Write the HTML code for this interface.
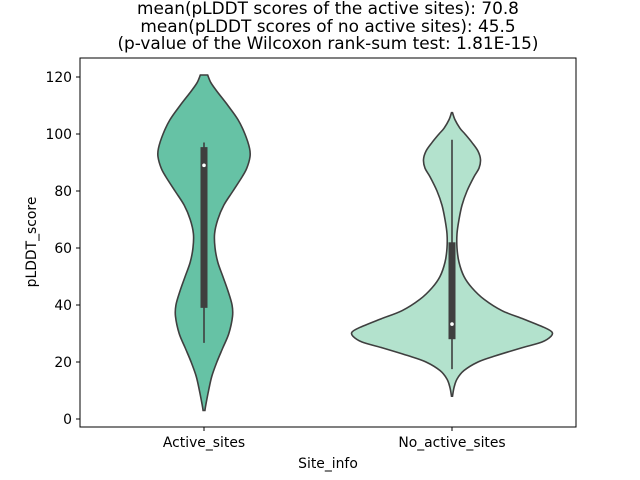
<!DOCTYPE html>
<html><head><meta charset="utf-8"><style>body{margin:0;background:#fff}svg{display:block;font-family:"DejaVu Sans","Liberation Sans",sans-serif}</style></head>
<body>
<svg id="c" width="640" height="480">
<g font-size="16.9" text-anchor="middle" fill="#000">
<text x="328" y="14">mean(pLDDT scores of the active sites): 70.8</text>
<text x="328" y="32">mean(pLDDT scores of no active sites): 45.5</text>
<text x="328" y="49">(p-value of the Wilcoxon rank-sum test: 1.81E-15)</text>
</g>
<g id="plot"></g>
<rect x="80" y="58" width="496" height="369" fill="none" stroke="#000" stroke-width="1"/>
<text x="328" y="468" font-size="13.9" text-anchor="middle">Site_info</text>
<text transform="translate(36,242) rotate(-90)" font-size="13.9" text-anchor="middle">pLDDT_score</text>
</svg>
<script>
const categories=["Active_sites","No_active_sites"];
const colors=["#66c2a5","#b3e2cd"];
const yTicks=[0,20,40,60,80,100,120];
const profA_vals=[120.7,118,115,110,105,100,95,92,88,85,80,75,70,65,60,55,50,45,40,36,30,25,20,15,10,5,3];
const profA_w=[0.08,0.15,0.28,0.52,0.74,0.89,0.99,1.0,0.93,0.83,0.63,0.43,0.3,0.23,0.24,0.3,0.41,0.52,0.61,0.62,0.54,0.41,0.28,0.17,0.1,0.04,0.02];
const profB_vals=[107.5,105,102,100,97,94,91,88,85,80,75,70,65,60,55,50,46,42,38,35,32,30.5,29,27,25,22,20,17,14,11,8];
const profB_w=[0.005,0.03,0.08,0.13,0.2,0.26,0.285,0.27,0.22,0.15,0.1,0.07,0.05,0.05,0.07,0.12,0.2,0.32,0.5,0.72,0.93,1.0,0.99,0.9,0.7,0.42,0.26,0.12,0.05,0.02,0.005];
const maxHalf=[46,100];
const q1=[39,28], q3=[95.4,62], med=[89,33.3], whiskLo=[26.7,17.5], whiskHi=[97,98];
const NS="http://www.w3.org/2000/svg";
const y=v=>419-2.85*v;
const x=i=>80+496*(i+0.5)/2;
const g=document.getElementById('plot');
function mk(t,a,p){const e=document.createElementNS(NS,t);for(const k in a)e.setAttribute(k,a[k]);(p||g).appendChild(e);return e;}
function smooth(pts){let d="M"+pts[0][0]+","+pts[0][1];for(let i=0;i<pts.length-1;i++){const p0=pts[i-1]||pts[i],p1=pts[i],p2=pts[i+1],p3=pts[i+2]||p2;d+=` C${p1[0]+(p2[0]-p0[0])/6},${p1[1]+(p2[1]-p0[1])/6} ${p2[0]-(p3[0]-p1[0])/6},${p2[1]-(p3[1]-p1[1])/6} ${p2[0]},${p2[1]}`;}return d;}
yTicks.forEach(t=>{
const l=mk('line',{x1:76,x2:80,y1:y(t),y2:y(t),stroke:'#000'});


const tx=mk('text',{x:72,y:y(t)+5,'font-size':13.9,'text-anchor':'end'});tx.textContent=t;


});
const profs=[[profA_vals,profA_w],[profB_vals,profB_w]];
categories.forEach((c,i)=>{
const cx=x(i),[vs,ws]=profs[i];
const right=vs.map((v,k)=>[cx+ws[k]*maxHalf[i],y(v)]);
const left=vs.map((v,k)=>[cx-ws[k]*maxHalf[i],y(v)]).reverse();
const sl=smooth(left);
const d=smooth(right)+" L"+left[0][0]+","+left[0][1]+sl.slice(sl.indexOf(" C"))+"Z";
const p=mk('path',{d:d,fill:colors[i],stroke:'#3f3f3f','stroke-width':1.6});


const w=mk('line',{x1:cx,x2:cx,y1:y(whiskHi[i]),y2:y(whiskLo[i]),stroke:'#3f3f3f','stroke-width':1.6});


const b=mk('rect',{x:cx-3.5,width:7,y:y(q3[i]),height:y(q1[i])-y(q3[i]),fill:'#3f3f3f'});


const m=mk('circle',{cx:cx,cy:y(med[i]),r:1.8,fill:'#fff'});


const tk=mk('line',{x1:cx,x2:cx,y1:427,y2:431,stroke:'#000'});


const lb=mk('text',{x:cx,y:447,'font-size':13.9,'text-anchor':'middle'});lb.textContent=c;


});
</script>
</body></html>
